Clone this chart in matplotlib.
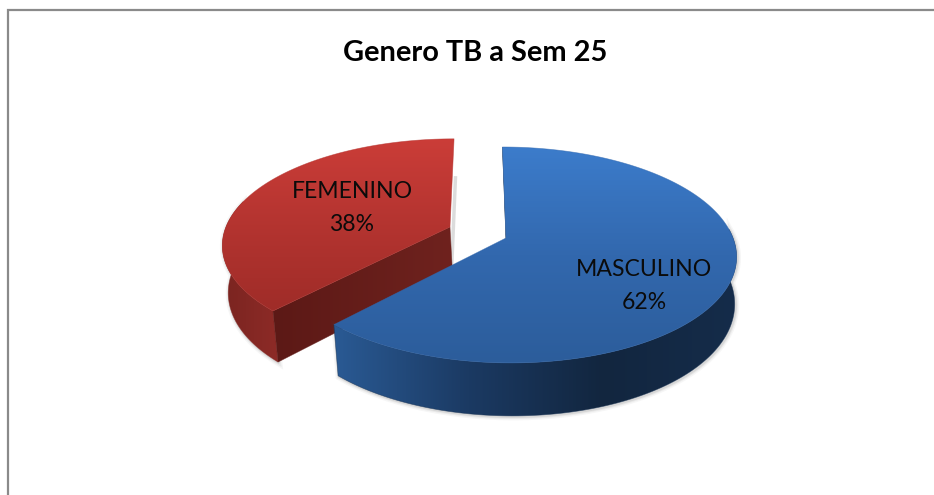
import numpy as np
from matplotlib import pyplot as plt
from matplotlib.colors import LinearSegmentedColormap
from matplotlib.patches import Polygon

title = "Genero TB a Sem 25"
genders = ["MASCULINO", "FEMENINO"]
shares = [62, 38]

W, H = 934, 495
VANISH_X = 480
PERSP = 0.157
BASE_SCALE = 0.985
BASE_SHIFT = 2

# apex x offset from vanish point, apex y, radii, label centre
geo = {
    "MASCULINO": dict(ax=26, ay=238, rx=227, ry=105.3, label=(644, 286)),
    "FEMENINO": dict(ax=-30, ay=227, rx=224, ry=102, label=(352, 208)),
}
top_cols = {
    "MASCULINO": ["#3c7ccb", "#3268ae", "#2c5d9b"],
    "FEMENINO": ["#cb3d38", "#b43430", "#9f2c28"],
}
wall_cols = {
    "MASCULINO": ["#2a5a94", "#1b3a63", "#12263f", "#152c4a"],
    "FEMENINO": ["#7a2420", "#8d2b27"],
}
cut_cols = {
    "MASCULINO": ["#12263f", "#12263f"],
    "FEMENINO": ["#5c1916", "#6f221e"],
}


def depth(v):
    return 46 - 7 * v


def project(g, u, v, base=False):
    w = 1 + PERSP * v
    s = BASE_SCALE if base else 1.0
    x = VANISH_X + (g["ax"] + g["rx"] * u) / w * s
    y = g["ay"] - g["ry"] * v / w
    if base:
        x = x + BASE_SHIFT
        y = y + depth(v)
    return x, y


def arc(g, a0, a1, base=False):
    t = np.radians(np.linspace(a0, a1, 200))
    x, y = project(g, np.sin(t), np.cos(t), base)
    return np.column_stack([x, y])


def fill_gradient(ax, pts, cols, horizontal, z):
    patch = Polygon(pts, closed=True, fc="none", ec="none", zorder=z)
    ax.add_patch(patch)
    cmap = LinearSegmentedColormap.from_list("g", cols)
    ramp = np.linspace(0, 1, 256)
    arr = ramp[None, :] if horizontal else ramp[:, None]
    x0, x1 = pts[:, 0].min(), pts[:, 0].max()
    y0, y1 = pts[:, 1].min(), pts[:, 1].max()
    im = ax.imshow(arr, extent=[x0, x1, y1, y0], cmap=cmap, aspect="auto", zorder=z)
    im.set_clip_path(patch)
    # clip edges are jagged, soften with a thin outline
    mid = cmap(0.5)
    ax.add_patch(Polygon(pts, closed=True, fc="none", ec=mid, lw=0.5, alpha=0.6, zorder=z))


def draw_slice(ax, name, a0, a1, z):
    g = geo[name]
    top = arc(g, a0, a1)
    # only the part of the rim that faces the viewer gets a wall
    w0, w1 = max(a0, 85), min(a1, 285)
    wall = np.vstack([arc(g, w0, w1), arc(g, w0, w1, base=True)[::-1]])
    apex = np.array([project(g, 0, 0)])
    apex_b = np.array([project(g, 0, 0, base=True)])
    first_b = np.array([project(g, np.sin(np.radians(a0)), np.cos(np.radians(a0)), base=True)])

    # faint drop shadow around the body
    for lw, alpha in [(5, 0.05), (3, 0.08), (1.5, 0.12)]:
        ax.add_patch(Polygon(wall + [1, 1], closed=True, fc="none",
                             ec="#555555", lw=lw, alpha=alpha, zorder=z))
    if name == "FEMENINO":
        back_b = np.array([project(g, 0, 1, base=True)])
        line = np.vstack([back_b, apex_b]) + [-1, 0]
        ax.plot(line[:, 0], line[:, 1], color="#777777", lw=2.5, alpha=0.25, zorder=z)

    fill_gradient(ax, wall, wall_cols[name], True, z + 0.1)

    # the cut face that looks towards the viewer
    cut = np.vstack([apex, top[:1], first_b, apex_b])
    fill_gradient(ax, cut, cut_cols[name], True, z + 0.2)

    fill_gradient(ax, np.vstack([apex, top]), top_cols[name], False, z + 0.3)


def main():
    plt.rcParams["font.family"] = ["Lato", "DejaVu Sans"]
    fig = plt.figure(figsize=(W / 100, H / 100), dpi=100)
    ax = fig.add_axes([0, 0, 1, 1])
    ax.axis("off")

    ax.plot([8, 8, W], [H, 9.5, 9.5], color="#8a8a8a", lw=1.6, solid_joinstyle="miter")

    # blue starts at 12 o'clock and runs clockwise, red is the rest; red goes below blue
    total = sum(shares)
    ends = np.cumsum(shares) / total * 360
    starts = np.r_[0, ends[:-1]]
    for i in np.argsort(shares):
        draw_slice(ax, genders[i], starts[i], ends[i], 2 + 2 * (shares[i] == max(shares)))

    for name, val in zip(genders, shares):
        lx, ly = geo[name]["label"]
        ax.text(lx, ly, f"{name}\n{val}%", ha="center", va="center", fontsize=16.6,
                color="#0b0b0b", linespacing=1.65, zorder=10)

    ax.text(475.5, 61, title, ha="center", va="baseline", fontsize=20.9,
            fontweight="bold", color="black", zorder=10)

    ax.set_xlim(0, W)
    ax.set_ylim(H, 0)
    fig.savefig("out.png", dpi=100)


if __name__ == '__main__':
    main()
